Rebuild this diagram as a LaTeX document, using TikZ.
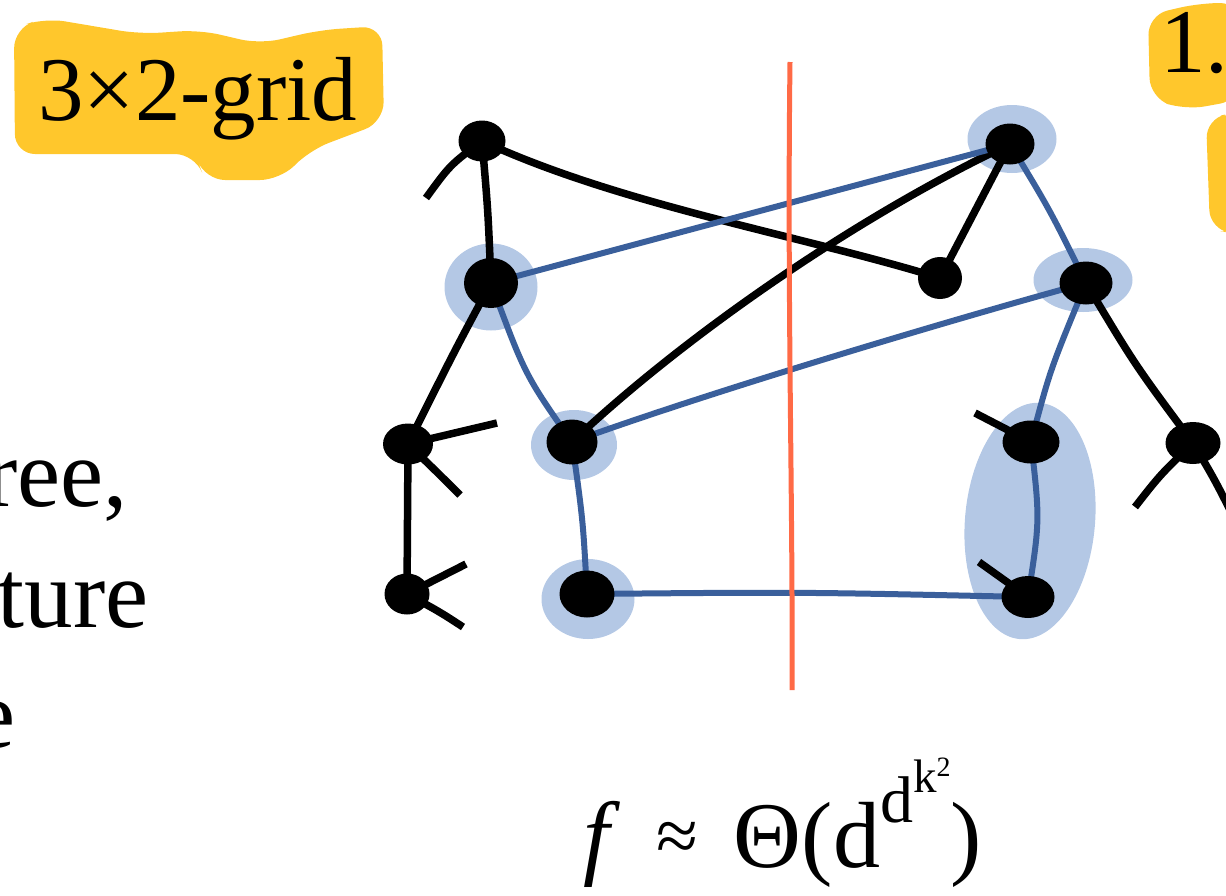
\documentclass[tikz,border=0pt]{standalone}
\usepackage{fontspec}
\setmainfont{Liberation Serif}
\usetikzlibrary{shapes.geometric}
\definecolor{hlyellow}{RGB}{255,199,44}
\definecolor{haloblue}{RGB}{180,200,229}
\definecolor{cutblue}{RGB}{58,95,155}
\definecolor{cutred}{RGB}{255,106,70}
\pgfdeclarelayer{halos}
\pgfdeclarelayer{edges}
\pgfsetlayers{halos,edges,main}
\newcommand{\sz}[1]{\fontsize{#1}{#1}\selectfont}

\begin{document}
\begin{tikzpicture}[
    x=1pt, y=-1pt,
    dot/.style={ellipse, fill=black, inner sep=0pt, minimum width=48pt, minimum height=40pt},
    halo/.style={ellipse, fill=haloblue, inner sep=0pt},
    edge/.style={line width=7.5pt, black},
    cutedge/.style={line width=6pt, cutblue},
    cut/.style={line width=5pt, cutred},
    blob/.style={fill=hlyellow, rounded corners=20pt},
    big/.style={inner sep=0pt, font=\sz{91}},
    side/.style={inner sep=0pt, font=\sz{97}}
]
\useasboundingbox (0,0) rectangle (1226,895);

% Highlights
\fill[blob] (14,28) -- (45,18) -- (140,34) -- (200,30) -- (260,44) -- (320,30) -- (382,26)
    -- (384,122) -- (310,150) -- (280,180) -- (205,180) -- (195,154) -- (15,154) -- cycle;
\fill[blob] (1148,15) -- (1200,3) -- (1240,3) -- (1240,100) -- (1185,110) -- (1150,98) -- cycle;
\fill[blob] (1206,118) -- (1240,112) -- (1240,234) -- (1210,230) -- cycle;

% Labels
\node[big, anchor=base west] (title) at (38,120) {3×2-grid};
\node[big, anchor=base west] (step) at (1160,72) {1.};
\node[side, anchor=base east] (line1) at (128,506) {ree,};
\node[side, anchor=base east] (line2) at (149,627) {ture};
\node[side, anchor=base east] (line3) at (16,747) {e};
\node[inner sep=0pt, anchor=base west, font=\sz{94}] (bound) at (583,867)
    {\textit{f}\hspace{36pt}\raisebox{6pt}{\sz{76}≈}\hspace{36pt}Θ(d\raisebox{45pt}{\sz{66}d\raisebox{30pt}{\sz{47}k\raisebox{16pt}{\sz{28}2}}})};

% Halos
\begin{pgfonlayer}{halos}
\node[halo, minimum width=93pt, minimum height=87pt] (hB) at (491,287) {};
\node[halo, minimum width=86pt, minimum height=70pt] (hE) at (574,445) {};
\node[halo, minimum width=93pt, minimum height=80pt] (hF) at (588,599) {};
\node[halo, minimum width=89pt, minimum height=68pt] (hG) at (1012,139) {};
\node[halo, minimum width=99pt, minimum height=64pt] (hI) at (1083,280) {};
\node[halo, minimum width=130pt, minimum height=237pt, rotate=-5] (hJK) at (1030,521) {};
\end{pgfonlayer}

% Vertices
\node[dot, minimum width=47pt, minimum height=41pt] (A) at (482,141) {};
\node[dot, minimum width=54pt, minimum height=50pt] (B) at (491,283) {};
\node[dot, minimum width=50pt, minimum height=41pt] (C) at (408,444) {};
\node[dot, minimum width=45pt, minimum height=41pt] (D) at (407,594) {};
\node[dot, minimum width=51pt, minimum height=45pt] (E) at (572,442) {};
\node[dot, minimum width=55pt, minimum height=47pt] (F) at (587,594) {};
\node[dot, minimum width=49pt, minimum height=41pt] (G) at (1010,144) {};
\node[dot, minimum width=44pt, minimum height=42pt] (H) at (940,278) {};
\node[dot, minimum width=53pt, minimum height=43pt] (I) at (1086,283) {};
\node[dot, minimum width=57pt, minimum height=43pt] (J) at (1031,442) {};
\node[dot, minimum width=53pt, minimum height=42pt] (K) at (1028,597) {};
\node[dot, minimum width=55pt, minimum height=42pt] (L) at (1193,443) {};

% Loose ends
\coordinate (a1) at (426,198);
\coordinate (c1) at (497,423);
\coordinate (c2) at (460,495);
\coordinate (d1) at (466,564);
\coordinate (d2) at (463,627);
\coordinate (j1) at (975,413);
\coordinate (k1) at (979,562);
\coordinate (l1) at (1135,507);
\coordinate (l2) at (1240,530);

% Edges
\begin{pgfonlayer}{edges}
\draw[edge] (A.center) .. controls (450,165) .. (a1);
\draw[edge] (A.center) .. controls (488,210) .. (B.center);
\draw[edge] (A.center) .. controls (620,205) and (800,235) .. (H.center);
\draw[edge] (B.center) .. controls (455,350) .. (C.center);
\draw[edge] (C.center) -- (D.center);
\draw[edge] (C.center) -- (c1);
\draw[edge] (C.center) .. controls (440,475) .. (c2);
\draw[edge] (D.center) -- (d1);
\draw[edge] (D.center) .. controls (440,612) .. (d2);
\draw[edge] (E.center) .. controls (680,340) and (850,220) .. (G.center);
\draw[edge] (H.center) -- (G.center);
\draw[edge] (I.center) .. controls (1135,365) .. (L.center);
\draw[edge] (L.center) .. controls (1160,475) .. (l1);
\draw[edge] (L.center) .. controls (1215,480) .. (l2);
\draw[edge] (J.center) -- (j1);
\draw[edge] (K.center) -- (k1);

% Cut edges
\draw[cutedge] (B.center) -- (G.center);
\draw[cutedge] (B.center) .. controls (525,375) .. (E.center);
\draw[cutedge] (E.center) .. controls (700,395) and (950,320) .. (I.center);
\draw[cutedge] (E.center) .. controls (583,520) .. (F.center);
\draw[cutedge] (F.center) .. controls (800,592) .. (K.center);
\draw[cutedge] (G.center) .. controls (1050,210) .. (I.center);
\draw[cutedge] (I.center) .. controls (1050,370) .. (J.center);
\draw[cutedge] (J.center) .. controls (1040,520) .. (K.center);
\end{pgfonlayer}

% Cut line
\coordinate (cutTop) at (790,62);
\coordinate (cutBot) at (792,690);
\draw[cut] (cutTop) .. controls (787,300) and (793,500) .. (cutBot);

\end{tikzpicture}
\end{document}
